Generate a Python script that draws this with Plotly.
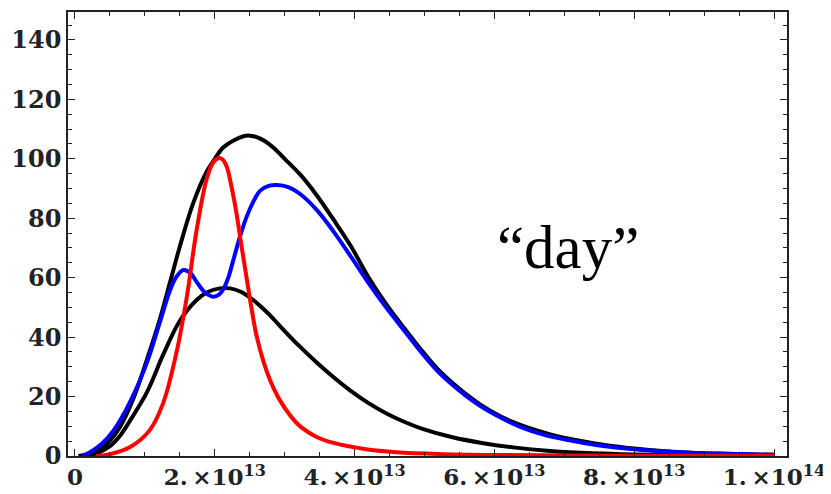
import plotly.graph_objects as go

# ---- data (x in units of 1e13) ----
big_black_x = [0.05, 0.2, 0.36, 0.5, 0.64, 0.83, 1.03, 1.22, 1.36, 1.5, 1.69, 1.88, 2.0, 2.12, 2.27, 2.41, 2.5,
               2.6, 2.72, 2.84, 3.0, 3.23, 3.45, 3.7, 3.95, 4.19, 4.45, 4.7, 4.95, 5.19, 5.5, 5.8, 6.1, 6.4,
               6.8, 7.2, 7.6, 8.0, 8.5, 9.0, 9.5, 10.0]
big_black_y = [0, 0.7, 2.3, 5.2, 9.6, 19, 32.5, 46.5, 58.5, 70.5, 85, 95.5, 100, 103.8, 106.2, 107.6, 107.8,
               107.3, 105.9, 103.7, 100, 94.5, 88, 79.5, 70.5, 60.5, 51.2, 43.3, 35.8, 29.2, 22.6, 17.3, 13.2, 10.2,
               7.3, 5.2, 3.6, 2.5, 1.5, 0.9, 0.6, 0.4]

small_black_x = [0.15, 0.3, 0.5, 0.65, 0.79, 1.03, 1.26, 1.5, 1.74, 1.9, 2.07, 2.22, 2.38, 2.55, 2.75, 2.93,
                 3.2, 3.47, 3.7, 3.94, 4.2, 4.45, 4.7, 4.95, 5.4, 5.84, 6.27, 6.8, 7.4, 8.0, 9.0, 10.0]
small_black_y = [0, 0.8, 3.3, 7, 12, 21.5, 34, 45.5, 52.5, 55.2, 56.4, 56.4, 55.2, 52.5, 48.3, 43.8,
                 37.2, 31.2, 26.5, 22, 17.8, 14.4, 11.6, 9.3, 6.3, 4.3, 2.9, 1.7, 0.9, 0.5, 0.2, 0.1]

blue_x = [0.1, 0.21, 0.38, 0.55, 0.79, 1.03, 1.22, 1.36, 1.45, 1.55, 1.65, 1.74, 1.86, 1.98, 2.06, 2.12, 2.19,
          2.26, 2.36, 2.46, 2.55, 2.65, 2.77, 2.89, 3.05, 3.23, 3.47, 3.7, 3.95, 4.19, 4.45, 4.7, 4.95, 5.19,
          5.5, 5.8, 6.1, 6.37, 6.7, 7.09, 7.45, 7.8, 8.5, 9.2, 10.0]
blue_y = [0, 1.2, 4, 8.5, 18.3, 31.5, 45.5, 55.8, 60.3, 62.6, 61.6, 58.6, 55, 53.6, 54.3, 56, 59.8,
          65.5, 73.8, 80.8, 85.5, 89.3, 90.9, 91.2, 90.5, 88, 82.5, 75.5, 67, 58.5, 50, 42.5, 35, 28.5,
          22, 16.8, 12.8, 9.8, 7.2, 5.2, 3.7, 2.7, 1.4, 0.8, 0.4]

red_x = [0.3, 0.5, 0.79, 1.07, 1.26, 1.45, 1.6, 1.74, 1.88, 1.97, 2.05, 2.11, 2.17, 2.24, 2.31, 2.38, 2.46, 2.53,
         2.6, 2.7, 2.79, 2.93, 3.1, 3.23, 3.45, 3.7, 4.19, 4.6, 5.2, 6.0, 7.0, 8.0, 10.0]
red_y = [0, 0.6, 3, 8.7, 17.7, 34.6, 53.6, 76, 92.9, 98.5, 100.2, 99.8, 97.4, 90.5, 81.7, 71, 59.2, 49,
         40.2, 31.5, 25.6, 18.8, 13, 9.8, 6.5, 4.4, 2.2, 1.3, 0.7, 0.35, 0.2, 0.1, 0.05]

x_tick_vals = [0, 2e13, 4e13, 6e13, 8e13, 1e14]
x_tick_text = ["0", "2.\u2009×10<sup>13</sup>", "4.\u2009×10<sup>13</sup>", "6.\u2009×10<sup>13</sup>",
               "8.\u2009×10<sup>13</sup>", "1.\u2009×10<sup>14</sup>"]
y_tick_vals = [0, 20, 40, 60, 80, 100, 120, 140]

SCALE = 1e13


def sx(vals):
    return [v * SCALE for v in vals]


fig = go.Figure()
series = [
    (big_black_x, big_black_y, "black"),
    (small_black_x, small_black_y, "black"),
    (blue_x, blue_y, "#0000ff"),
    (red_x, red_y, "#ff0000"),
]
for xs, ys, col in series:
    fig.add_trace(go.Scatter(x=sx(xs), y=ys, mode="lines",
                             line=dict(color=col, width=4, shape="spline", smoothing=1.0),
                             showlegend=False, hoverinfo="skip"))

axis_common = dict(showgrid=False, zeroline=False, showline=True, linecolor="#222222", linewidth=1.5,
                   mirror="ticks", ticks="inside", ticklen=7, tickwidth=1.3, tickcolor="#222222",
                   automargin=False)
# the page body adds an 8px offset, so margins are shifted to compensate
fig.update_layout(
    width=831, height=494,
    margin=dict(l=60, r=52, t=4, b=46, autoexpand=False),
    plot_bgcolor="white", paper_bgcolor="white",
    xaxis=dict(range=[-1.0e12, 1.0186e14], tickvals=x_tick_vals, ticktext=x_tick_text,
               minor=dict(ticks="inside", ticklen=4, dtick=0.5e13, tick0=0, tickcolor="#222222", tickwidth=1.1),
               tickfont=dict(family="DejaVu Serif", size=23, color="#222222", weight="bold"),
               **axis_common),
    yaxis=dict(range=[0, 149.4], tickvals=y_tick_vals,
               minor=dict(ticks="inside", ticklen=4, dtick=5, tick0=0, tickcolor="#222222", tickwidth=1.1),
               tickfont=dict(family="DejaVu Serif", size=24, color="#222222", weight="bold"),
               **axis_common),
    annotations=[dict(x=7.05e13, y=70, xref="x", yref="y", text="\u201cday\u201d", showarrow=False,
                      font=dict(family="Liberation Serif", size=61, color="black"),
                      xanchor="center", yanchor="middle")],
)
fig.write_html("out.html")
